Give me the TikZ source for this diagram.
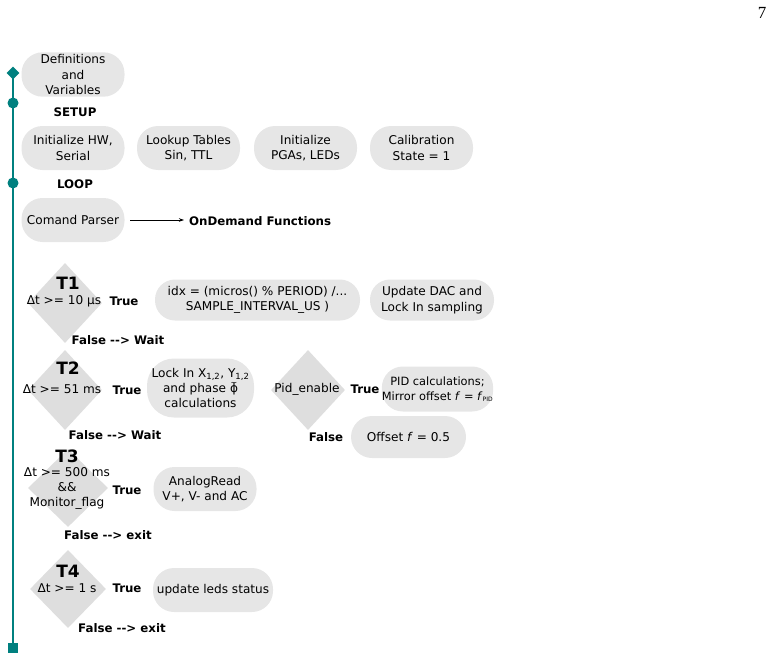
\documentclass[tikz,border=0pt]{standalone}
\usepackage{fontspec}
\setmainfont{DejaVu Sans}
\newfontfamily\serifpg{Liberation Serif}
\usetikzlibrary{shapes.geometric,arrows.meta}
\definecolor{tealline}{HTML}{00807F}
\definecolor{pillgray}{HTML}{E6E6E6}
\definecolor{diagray}{HTML}{DEDEDE}
\newcommand{\tphi}{\ooalign{ϕ\cr\hidewidth\raisebox{0.58em}{\fontsize{8}{8}\selectfont\char"7E}\hidewidth\cr}}
\newcommand{\arr}{{-}{-}>}
\tikzset{
  pillbox/.style={fill=pillgray, rounded corners=21pt, minimum width=103pt, minimum height=44pt,
    align=center, font=\fontsize{12.1}{15.5}\selectfont, inner sep=2pt},
  decis/.style={diamond, fill=diagray, inner sep=0pt, minimum width=74pt, minimum height=80pt},
  lbl/.style={font=\fontsize{12.1}{15}\selectfont, align=center, inner sep=0pt},
  blbl/.style={font=\bfseries\fontsize{11.8}{15}\selectfont, inner sep=0pt},
  tlbl/.style={font=\bfseries\fontsize{17}{18}\selectfont, inner sep=0pt},
  mark dia/.style={diamond, fill=tealline, inner sep=0pt, minimum size=13pt},
  mark dot/.style={circle, fill=tealline, inner sep=0pt, minimum size=11pt},
  mark sq/.style={rectangle, fill=tealline, inner sep=0pt, minimum size=10pt},
}
\begin{document}
\begin{tikzpicture}[x=1pt,y=-1pt]
\useasboundingbox (0,0) rectangle (774,661);
% page number
\node[inner sep=0pt, font=\serifpg\fontsize{17}{18}\selectfont] (pg) at (762,13) {7};
% timeline
\coordinate (ltop) at (13,73);
\coordinate (lbot) at (13,648);
\draw[tealline, line width=1.6pt] (ltop) -- (lbot);
\node[mark dia] (m1) at (13,73) {};
\node[mark dot] (m2) at (13,103) {};
\node[mark dot] (m3) at (13,183) {};
\node[mark sq] (m4) at (13,648) {};
% definitions
\node[pillbox] (defs) at (73,74.5) {Definitions\\and\\Variables};
\node[blbl] (setup) at (75,112) {SETUP};
\node[pillbox] (inithw) at (73,148) {Initialize HW,\\Serial};
\node[pillbox] (lookup) at (188.5,148) {Lookup Tables\\Sin, TTL};
\node[pillbox] (initpga) at (305.5,148) {Initialize\\PGAs, LEDs};
\node[pillbox] (calib) at (421.5,148) {Calibration\\State = 1};
\node[blbl] (loop) at (75,184) {LOOP};
\node[pillbox] (parser) at (73,220) {Comand Parser};
\node[blbl, anchor=west] (ondemand) at (189,221) {OnDemand Functions};
\coordinate (pstart) at (130,220);
\coordinate (pend) at (184,220);
\draw[-{Stealth[length=5pt,width=3.5pt]}, line width=0.8pt] (pstart) -- (pend);
% T1
\node[decis] (t1) at (65,303) {};
\node[tlbl] (t1n) at (68,283) {T1};
\node[lbl] (t1c) at (64,301) {Δt >= 10 µs};
\node[blbl] (t1t) at (124,301) {True};
\node[blbl] (t1f) at (118,340) {False \arr{} Wait};
\node[pillbox, minimum width=205pt, minimum height=41pt, rounded corners=20pt] (idx) at (257.5,300) {idx = (micros() \% PERIOD) /...\\SAMPLE\_INTERVAL\_US )};
\node[pillbox, minimum width=124pt, minimum height=41pt, rounded corners=20pt] (dac) at (432,300) {Update DAC and\\Lock In sampling};
% T2
\node[decis] (t2) at (65,390) {};
\node[tlbl] (t2n) at (68,368) {T2};
\node[lbl] (t2c) at (62,389) {Δt >= 51 ms};
\node[blbl] (t2t) at (127,390) {True};
\node[blbl] (t2f) at (115,435) {False \arr{} Wait};
\node[pillbox, minimum width=107pt, minimum height=59pt, rounded corners=27pt, font=\fontsize{12.1}{15}\selectfont] (lockin) at (200.5,388) {Lock In X\textsubscript{1,2}, Y\textsubscript{1,2}\\and phase \tphi\\calculations};
\node[decis] (pid) at (308,390) {};
\node[lbl] (pidc) at (307,389) {Pid\_enable};
\node[blbl] (pidt) at (365,389) {True};
\node[pillbox, minimum width=99pt, minimum height=45pt, rounded corners=21pt, inner sep=0pt, font=\fontsize{11.4}{15}\selectfont] (pidbox) at (437.5,389) {PID calculations;\\Mirror offset \textit{f} = \textit{f}\textsubscript{\fontsize{6}{6}\selectfont PID}};
\node[blbl] (pidf) at (326,437) {False};
\node[pillbox, minimum width=115pt, minimum height=42pt, rounded corners=21pt] (offset) at (408.5,437) {Offset \textit{f} = 0.5};
% T3
\node[decis, minimum width=80pt, minimum height=78pt] (t3) at (68,488) {};
\node[tlbl] (t3n) at (67,456) {T3};
\node[lbl] (t3c) at (67,488.5) {Δt >= 500 ms\\\&\&\\Monitor\_flag};
\node[blbl] (t3t) at (127,490) {True};
\node[blbl] (t3f) at (108,535) {False \arr{} exit};
\node[pillbox] (analog) at (205,489) {AnalogRead\\V+, V- and AC};
% T4
\node[decis, minimum width=76pt, minimum height=78pt] (t4) at (68,589) {};
\node[tlbl] (t4n) at (68,571) {T4};
\node[lbl] (t4c) at (67,588) {Δt >= 1 s};
\node[blbl] (t4t) at (127,588) {True};
\node[blbl] (t4f) at (122,628) {False \arr{} exit};
\node[pillbox, minimum width=120pt] (leds) at (213,590) {update leds status};
\end{tikzpicture}
\end{document}
